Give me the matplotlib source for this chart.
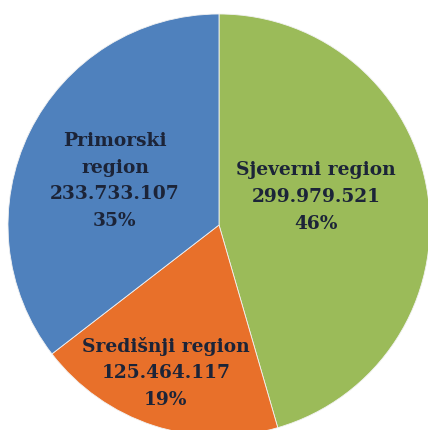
import matplotlib
matplotlib.use("Agg")
import matplotlib.pyplot as plt
import numpy as np

regions = ["Sjeverni region", "Središnji region", "Primorski\nregion"]
values = [299979521, 125464117, 233733107]
value_labels = ["299.979.521", "125.464.117", "233.733.107"]
percents = ["46%", "19%", "35%"]
colors = ["#9BBB59", "#E8702A", "#4F81BD"]

W, H = 428, 430
fig = plt.figure(figsize=(W / 100, H / 100), dpi=100)
ax = fig.add_axes([0, 0, 1, 1])
cx, cy, R = 219, 430 - 225, 211
ax.pie(values, colors=colors, startangle=90, counterclock=False, radius=1,
       wedgeprops=dict(linewidth=0.6, edgecolor="#f2f2f2"))
ax.set_xlim(-cx / R, (W - cx) / R)
ax.set_ylim(-cy / R, (H - cy) / R)
ax.set_aspect("equal")
ax.axis("off")

# label anchor positions (pixels, from top)
anchors = [(316, 197), (166, 373), (115, 181)]
for name, v, p, (px, py) in zip(regions, value_labels, percents, anchors):
    x = (px - cx) / R
    y = ((H - py) - cy) / R
    ax.text(x, y, f"{name}\n{v}\n{p}", ha="center", va="center",
            fontsize=13.4, fontweight="bold", family="DejaVu Serif",
            color="#1c2438", linespacing=1.62)

fig.savefig("out.png", dpi=100)
